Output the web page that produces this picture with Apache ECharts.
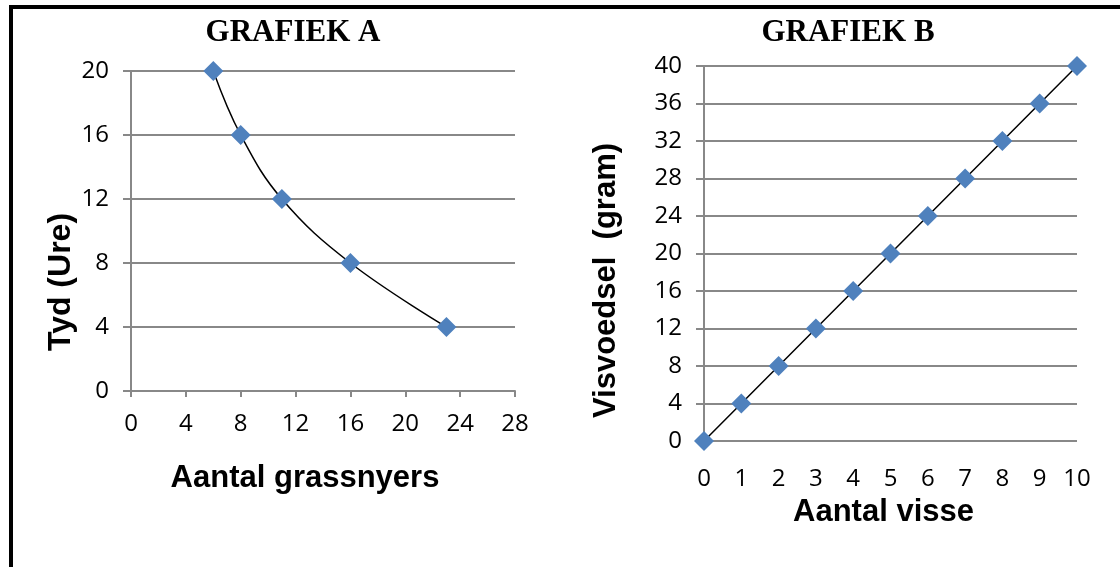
<!DOCTYPE html>
<html>
<head>
<meta charset="utf-8">
<script src="https://cdn.jsdelivr.net/npm/echarts@6/dist/echarts.min.js"></script>
<style>html,body{margin:0;padding:0;background:#fff}#c{width:1120px;height:567px}</style>
</head>
<body>
<div id="c"></div>
<script>
// Grafiek A
const grassnyers = [6, 8, 11, 16, 23];
const tydUre = [20, 16, 12, 8, 4];
// Grafiek B
const aantalVisse = [0, 1, 2, 3, 4, 5, 6, 7, 8, 9, 10];
const visvoedsel = [0, 4, 8, 12, 16, 20, 24, 28, 32, 36, 40];

const chart = echarts.init(document.getElementById('c'));
const gridColor = '#888888';
const tickFont = { fontFamily: 'Open Sans, Liberation Sans, sans-serif', fontSize: 24, color: '#000' };
const nameFont = { fontFamily: 'Liberation Sans, Arial, sans-serif', fontWeight: 'bold', color: '#000' };
const titleFont = { fontFamily: 'Liberation Serif, Times New Roman, serif', fontWeight: 'bold', fontSize: 31, color: '#000' };

chart.setOption({
  animation: false,
  backgroundColor: '#fff',
  title: [
    { text: 'GRAFIEK A', left: 288, top: 12, textAlign: 'center', textStyle: titleFont },
    { text: 'GRAFIEK B', left: 843, top: 12, textAlign: 'center', textStyle: titleFont }
  ],
  graphic: [
    { type: 'rect', shape: { x: 9, y: 5, width: 1111, height: 4 }, style: { fill: '#000' } },
    { type: 'rect', shape: { x: 9, y: 5, width: 4, height: 562 }, style: { fill: '#000' } }
  ],
  grid: [
    { left: 131, right: 605, top: 71, bottom: 176 },
    { left: 704, right: 43, top: 66, bottom: 126 }
  ],
  xAxis: [
    { type: 'value', gridIndex: 0, min: 0, max: 28, interval: 4,
      name: 'Aantal grassnyers', nameLocation: 'middle', nameGap: 72,
      nameTextStyle: Object.assign({ fontSize: 31, padding: [0, 36, 0, 0] }, nameFont),
      axisLine: { show: true, lineStyle: { color: gridColor, width: 2 } },
      axisTick: { show: true, length: 6, lineStyle: { color: gridColor, width: 2 } },
      axisLabel: Object.assign({ margin: 21 }, tickFont),
      splitLine: { show: false } },
    { type: 'value', gridIndex: 1, min: 0, max: 10, interval: 1,
      name: 'Aantal visse', nameLocation: 'middle', nameGap: 56,
      nameTextStyle: Object.assign({ fontSize: 31, padding: [0, 14, 0, 0] }, nameFont),
      axisLine: { show: false },
      axisTick: { show: false },
      axisLabel: Object.assign({ margin: 26 }, tickFont),
      splitLine: { show: false } }
  ],
  yAxis: [
    { type: 'value', gridIndex: 0, min: 0, max: 20, interval: 4,
      name: 'Tyd (Ure)', nameLocation: 'middle', nameGap: 52,
      nameTextStyle: Object.assign({ fontSize: 32, padding: [0, 102, 0, 0] }, nameFont),
      axisLine: { show: true, lineStyle: { color: gridColor, width: 2 } },
      axisTick: { show: true, length: 8, lineStyle: { color: gridColor, width: 2 } },
      axisLabel: Object.assign({ margin: 22 }, tickFont),
      splitLine: { show: true, lineStyle: { color: gridColor, width: 2 } } },
    { type: 'value', gridIndex: 1, min: 0, max: 40, interval: 4,
      name: 'Visvoedsel  (gram)', nameLocation: 'middle', nameGap: 82,
      nameTextStyle: Object.assign({ fontSize: 31, padding: [0, 54, 0, 0] }, nameFont),
      axisLine: { show: true, lineStyle: { color: gridColor, width: 2 } },
      axisTick: { show: true, length: 8, lineStyle: { color: gridColor, width: 2 } },
      axisLabel: Object.assign({ margin: 22 }, tickFont),
      splitLine: { show: true, lineStyle: { color: gridColor, width: 2 } } }
  ],
  series: [
    { type: 'line', xAxisIndex: 0, yAxisIndex: 0, smooth: 0.4,
      data: grassnyers.map((x, i) => [x, tydUre[i]]),
      lineStyle: { color: '#000', width: 1.5 },
      symbol: 'diamond', symbolSize: 20,
      itemStyle: { color: '#4F81BD' } },
    { type: 'line', xAxisIndex: 1, yAxisIndex: 1,
      data: aantalVisse.map((x, i) => [x, visvoedsel[i]]),
      lineStyle: { color: '#000', width: 1.5 },
      symbol: 'diamond', symbolSize: 20,
      itemStyle: { color: '#4F81BD' } }
  ]
});
</script>
</body>
</html>
